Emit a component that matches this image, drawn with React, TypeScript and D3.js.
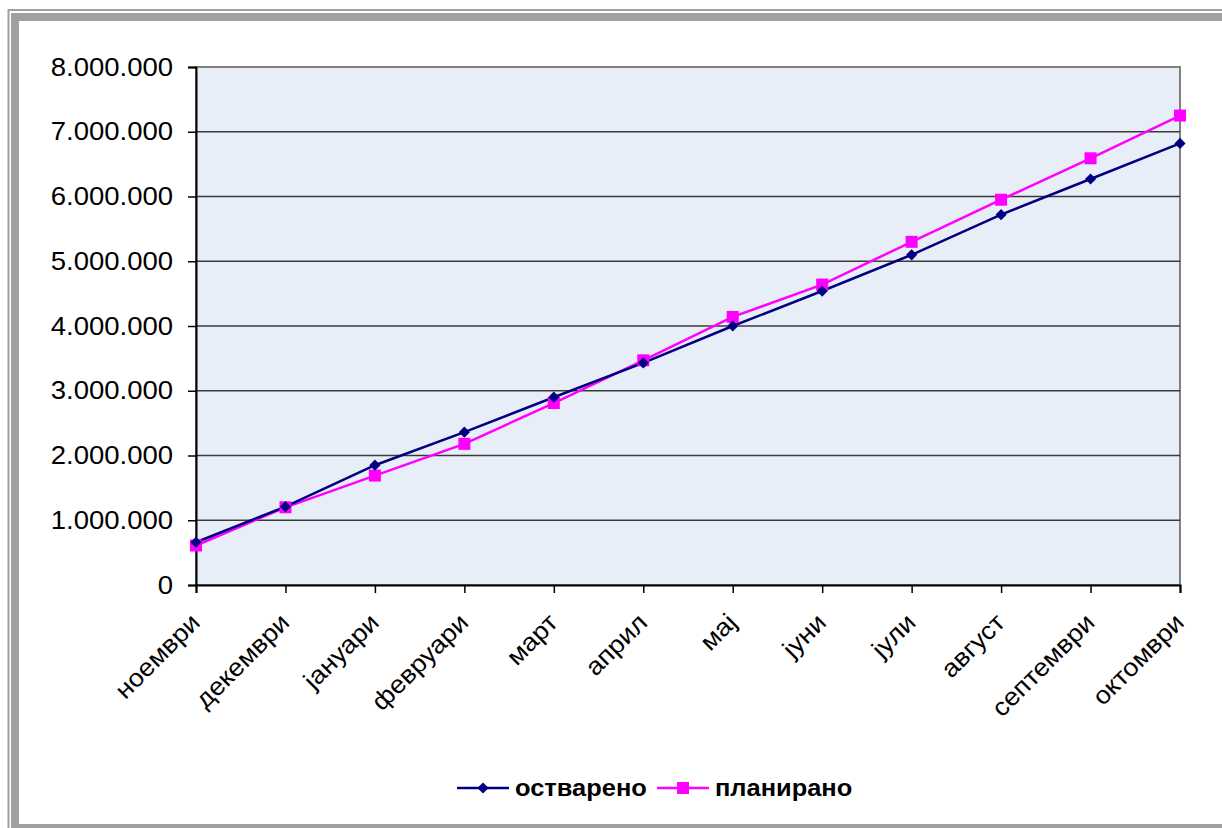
import React, { useEffect, useRef } from 'react';
import * as d3 from 'd3';

const months = ['ноември', 'декември', 'јануари', 'февруари', 'март', 'април', 'мај', 'јуни', 'јули', 'август', 'септември', 'октомври'];
const ostvareno = [660000, 1210000, 1850000, 2360000, 2900000, 3430000, 4000000, 4540000, 5100000, 5720000, 6270000, 6820000];
const planirano = [610000, 1200000, 1690000, 2180000, 2810000, 3470000, 4140000, 4640000, 5300000, 5950000, 6590000, 7250000];
const yTicks = [0, 1000000, 2000000, 3000000, 4000000, 5000000, 6000000, 7000000, 8000000];
const seriesNames = ['остварено', 'планирано'];

const fmt = (v: number) => d3.format(',')(v).replace(/,/g, '.');

function App() {
  const ref = useRef<SVGSVGElement>(null);

  useEffect(() => {
    const width = 1222;
    const height = 828;
    const margin = { top: 67, right: 42, bottom: 243, left: 196 };
    const innerWidth = width - margin.left - margin.right;
    const innerHeight = height - margin.top - margin.bottom;
    const font = "'Liberation Sans', Arial, sans-serif";

    const svg = d3.select(ref.current).attr('width', width).attr('height', height);
    svg.selectAll('*').remove();

    // frame
    svg.append('rect').attr('x', 8.5).attr('y', 10).attr('width', 1400).attr('height', 1000)
      .attr('fill', 'none').attr('stroke', '#a0a0a0').attr('stroke-width', 2);
    svg.append('rect').attr('x', 15).attr('y', 17).attr('width', 1400).attr('height', 811)
      .attr('fill', '#fff').attr('stroke', '#a0a0a0').attr('stroke-width', 8);

    const g = svg.append('g').attr('transform', `translate(${margin.left}, ${margin.top})`);

    const x = d3.scalePoint().domain(months).range([0, innerWidth]);
    const y = d3.scaleLinear().domain([0, 8000000]).range([innerHeight, 0]);

    // plot area
    g.append('rect').attr('width', innerWidth).attr('height', innerHeight)
      .attr('fill', '#e8eef8').attr('stroke', '#808080').attr('stroke-width', 2);

    // grid
    g.selectAll('.grid').data(yTicks.filter(t => t > 0 && t < 8000000)).join('line')
      .attr('class', 'grid')
      .attr('x1', 0).attr('x2', innerWidth)
      .attr('y1', d => y(d)).attr('y2', d => y(d))
      .attr('stroke', '#3a3a3a').attr('stroke-width', 1.3);

    // y axis
    const yAxis = g.append('g').call(d3.axisLeft(y).tickValues(yTicks).tickFormat(d => fmt(+d)).tickSize(8));
    yAxis.select('.domain').attr('stroke', '#000').attr('stroke-width', 2);
    yAxis.selectAll('.tick line').attr('stroke', '#000').attr('stroke-width', 1.5);
    yAxis.selectAll('.tick text').attr('font-family', font).attr('font-size', 25).attr('fill', '#000')
      .attr('x', 0).attr('transform', 'translate(-23, 0) scale(1.1, 1)');

    // x axis
    const xAxis = g.append('g').attr('transform', `translate(0, ${innerHeight})`)
      .call(d3.axisBottom(x).tickSize(8));
    xAxis.select('.domain').attr('stroke', '#000').attr('stroke-width', 2);
    xAxis.selectAll('.tick line').attr('stroke', '#000').attr('stroke-width', 1.5);
    xAxis.selectAll('.tick text')
      .attr('font-family', font).attr('font-size', 25).attr('fill', '#000')
      .attr('text-anchor', 'end')
      .attr('dy', 0)
      .attr('y', 0)
      .attr('transform', 'translate(5, 39) rotate(-45) scale(1.08, 1)');

    const line = d3.line<number>().x((_, i) => x(months[i]) as number).y(d => y(d));

    // planirano
    g.append('path').datum(planirano).attr('d', line)
      .attr('fill', 'none').attr('stroke', '#ff00ff').attr('stroke-width', 2.5);
    // ostvareno
    g.append('path').datum(ostvareno).attr('d', line)
      .attr('fill', 'none').attr('stroke', '#000080').attr('stroke-width', 2.5);

    g.selectAll('.sq').data(planirano).join('rect').attr('class', 'sq')
      .attr('x', (_, i) => (x(months[i]) as number) - 6).attr('y', d => y(d) - 6)
      .attr('width', 12).attr('height', 12).attr('fill', '#ff00ff');

    const diamond = d3.symbol().type(d3.symbolDiamond2).size(80);
    g.selectAll('.dm').data(ostvareno).join('path').attr('class', 'dm')
      .attr('d', diamond)
      .attr('transform', (d, i) => `translate(${x(months[i])}, ${y(d)})`)
      .attr('fill', '#000080');

    // legend
    const ly = 788;
    const leg = svg.append('g');
    leg.append('line').attr('x1', 457).attr('x2', 509).attr('y1', ly).attr('y2', ly)
      .attr('stroke', '#000080').attr('stroke-width', 2.5);
    leg.append('path').attr('d', diamond).attr('transform', `translate(483, ${ly})`).attr('fill', '#000080');
    leg.append('text').attr('transform', `translate(515, ${ly}) scale(1.06, 1)`).attr('dy', '0.35em').text(seriesNames[0])
      .attr('font-family', font).attr('font-size', 24).attr('font-weight', 'bold');
    leg.append('line').attr('x1', 657).attr('x2', 709).attr('y1', ly).attr('y2', ly)
      .attr('stroke', '#ff00ff').attr('stroke-width', 2.5);
    leg.append('rect').attr('x', 677).attr('y', ly - 6).attr('width', 12).attr('height', 12).attr('fill', '#ff00ff');
    leg.append('text').attr('transform', `translate(715, ${ly}) scale(1.06, 1)`).attr('dy', '0.35em').text(seriesNames[1])
      .attr('font-family', font).attr('font-size', 24).attr('font-weight', 'bold');
  }, []);

  return (
    <svg ref={ref} style={{ position: 'absolute', left: 0, top: 0, display: 'block' }}></svg>
  );
}

export default App;
